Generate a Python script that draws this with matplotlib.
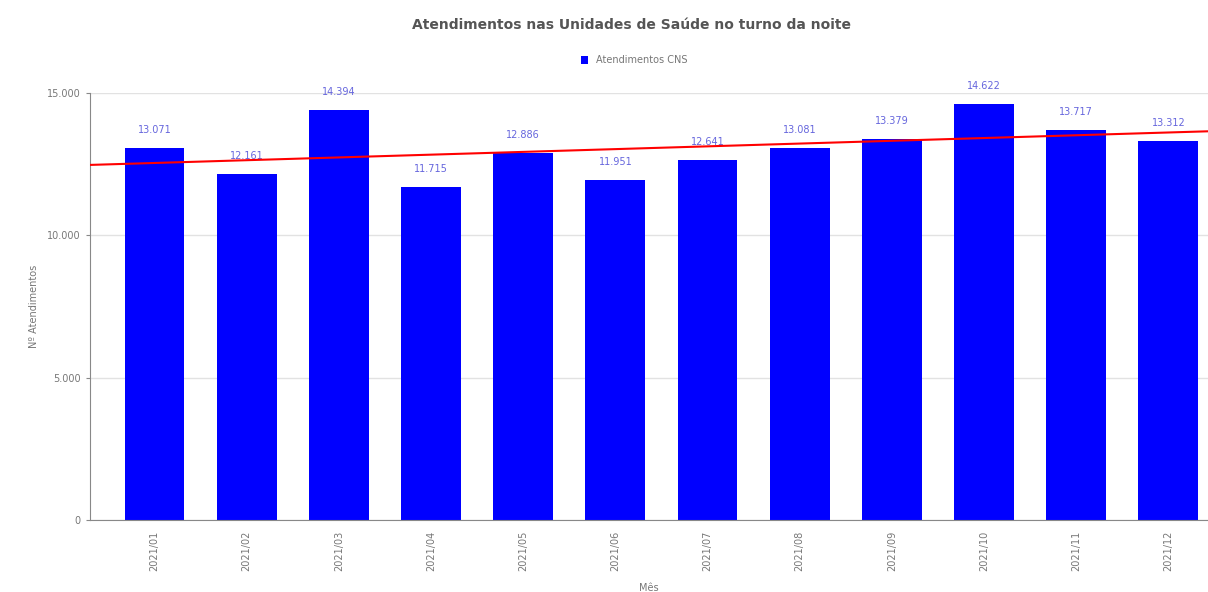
import numpy as np
import matplotlib
matplotlib.use("Agg")
from matplotlib import pyplot as plt

meses = ["2021/01", "2021/02", "2021/03", "2021/04", "2021/05", "2021/06",
         "2021/07", "2021/08", "2021/09", "2021/10", "2021/11", "2021/12"]
atendimentos = [13071, 12161, 14394, 11715, 12886, 11951,
                12641, 13081, 13379, 14622, 13717, 13312]


def fmt(v):
    return f"{v:,}".replace(",", ".")


fig = plt.figure(figsize=(12.08, 5.92), dpi=100)
ax = fig.add_axes([0.0745, 0.1216, 0.9255, 0.7213])

x = np.arange(len(meses))
bars = ax.bar(x, atendimentos, width=0.65, color="#0000ff", label="Atendimentos CNS", zorder=2)
for xi, v in zip(x, atendimentos):
    ax.text(xi, v + 450, fmt(v), ha="center", va="bottom", fontsize=7, color="#6666dd")

# linha de tendencia (regressao linear)
a, b = np.polyfit(x, atendimentos, 1)
xt = np.array([-0.7, 11.6])
ax.plot(xt, a * xt + b, color="#ff0000", linewidth=1.5, zorder=3)

ax.set_xlim(-0.7, 11.43)
ax.set_ylim(0, 15000)
ax.set_yticks([0, 5000, 10000, 15000])
ax.set_yticklabels([fmt(v) for v in [0, 5000, 10000, 15000]], fontsize=7, color="#777777")
ax.set_xticks(x)
ax.set_xticklabels(meses, rotation=90, fontsize=7, color="#777777")
ax.tick_params(axis="x", length=0, pad=8)
ax.tick_params(axis="y", length=3, color="#888888")
ax.grid(axis="y", color="#e2e2e2", linewidth=1, zorder=0)
for s in ["top", "right"]:
    ax.spines[s].set_visible(False)
ax.spines["left"].set_color("#888888")
ax.spines["bottom"].set_color("#888888")

ax.set_xlabel("Mês", fontsize=7, color="#777777", labelpad=8)
ax.set_ylabel("Nº Atendimentos", fontsize=7, color="#777777", labelpad=6)

fig.suptitle("Atendimentos nas Unidades de Saúde no turno da noite", x=0.523, y=0.97,
             fontsize=10, fontweight="bold", color="#555555")
fig.legend(handles=[bars], loc="center", bbox_to_anchor=(0.525, 0.898), frameon=False,
           fontsize=7, handlelength=0.8, handleheight=0.8, labelcolor="#777777")

fig.savefig("out.png", dpi=100)
